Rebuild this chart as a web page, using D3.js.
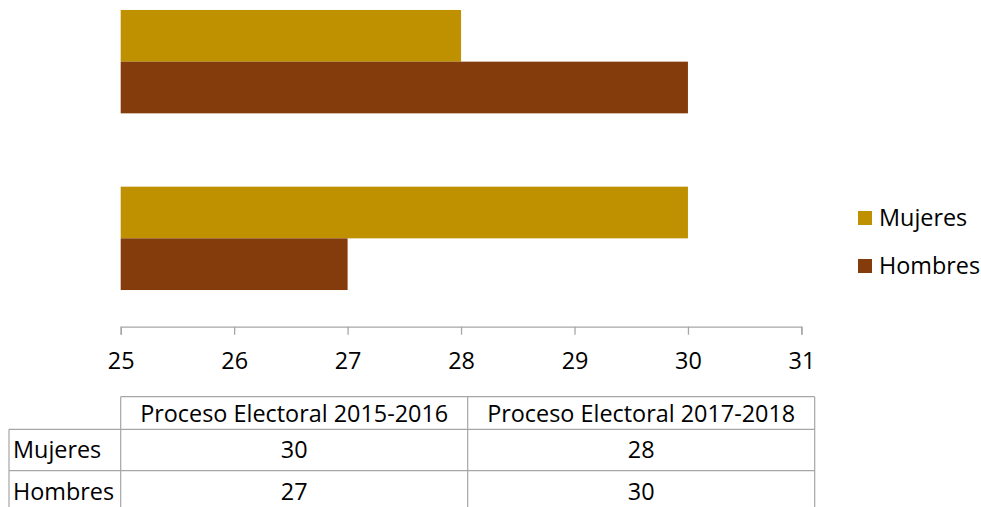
<!DOCTYPE html>
<html lang="es">
<head>
    <meta charset="UTF-8">
    <title>Mujeres y Hombres por proceso electoral</title>
    <script src="https://d3js.org/d3.v7.min.js"></script>
    <style>
        body {
            margin: 0;
            background: #fff;
        }
        svg text {
            font-family: "Open Sans", "Noto Sans", sans-serif;
            font-size: 23.4px;
            fill: #000;
        }
        .axis path,
        .axis line {
            stroke: #a6a6a6;
            stroke-width: 1.3;
        }
        .grid-table line {
            stroke: #a6a6a6;
            stroke-width: 1.2;
        }
    </style>
</head>
<body>
    <svg width="981" height="507"></svg>
    <script>
        // data
        const categories = ["Proceso Electoral 2015-2016", "Proceso Electoral 2017-2018"];
        const seriesNames = ["Mujeres", "Hombres"];
        const mujeres = [30, 28];
        const hombres = [27, 30];
        const xTicks = [25, 26, 27, 28, 29, 30, 31];

        const colors = { Mujeres: "#bf9000", Hombres: "#843c0c" };

        const svg = d3.select("svg");

        const plot = { left: 120.7, right: 801.4, top: -26.7, bottom: 326.7 };

        const x = d3.scaleLinear()
            .domain([25, 31])
            .range([plot.left, plot.right]);

        // first category sits at the bottom, like in the original
        const y0 = d3.scaleBand()
            .domain(categories)
            .range([plot.bottom, plot.top])
            .paddingInner(0.415)
            .paddingOuter(0.2075);

        const y1 = d3.scaleBand()
            .domain(seriesNames)
            .range([0, y0.bandwidth()]);

        const rows = categories.map((c, i) => ({
            category: c,
            values: [
                { name: "Mujeres", value: mujeres[i] },
                { name: "Hombres", value: hombres[i] }
            ]
        }));

        const groups = svg.append("g")
            .selectAll("g")
            .data(rows)
            .enter()
            .append("g")
            .attr("transform", d => `translate(0,${y0(d.category)})`);

        groups.selectAll("rect")
            .data(d => d.values)
            .enter()
            .append("rect")
            .attr("x", x(25))
            .attr("y", d => y1(d.name))
            .attr("width", d => x(d.value) - x(25))
            .attr("height", y1.bandwidth())
            .attr("fill", d => colors[d.name]);

        // x axis
        const axis = svg.append("g")
            .attr("class", "axis")
            .attr("transform", `translate(0,${plot.bottom})`)
            .call(d3.axisBottom(x)
                .tickValues(xTicks)
                .tickFormat(d3.format("d"))
                .tickSize(8)
                .tickSizeOuter(8)
                .tickPadding(18));

        axis.selectAll("text")
            .style("font-size", "23.4px")
            .style("font-family", "'Open Sans', sans-serif")
            .attr("fill", "#000");

        // legend
        const legend = svg.append("g")
            .selectAll("g")
            .data(seriesNames)
            .enter()
            .append("g")
            .attr("transform", (d, i) => `translate(858,${211 + i * 48})`);

        legend.append("rect")
            .attr("width", 14)
            .attr("height", 14)
            .attr("fill", d => colors[d]);

        legend.append("text")
            .attr("x", 21)
            .attr("y", 7)
            .attr("dy", "0.35em")
            .text(d => d);

        // data table under the chart
        const tbl = { left: 9, labelRight: 120.7, right: 814.7, top: 396.7, rowH: [32.6, 41.4, 41.4] };
        const colX = [tbl.labelRight, (tbl.labelRight + tbl.right) / 2, tbl.right];
        const rowY = [tbl.top];
        tbl.rowH.forEach(h => rowY.push(rowY[rowY.length - 1] + h));

        const table = svg.append("g").attr("class", "grid-table");

        // horizontal lines
        table.append("line")
            .attr("x1", tbl.labelRight).attr("x2", tbl.right)
            .attr("y1", rowY[0]).attr("y2", rowY[0]);
        [rowY[1], rowY[2], rowY[3]].forEach(yy => {
            table.append("line")
                .attr("x1", tbl.left).attr("x2", tbl.right)
                .attr("y1", yy).attr("y2", yy);
        });

        // vertical lines
        table.append("line")
            .attr("x1", tbl.left).attr("x2", tbl.left)
            .attr("y1", rowY[1]).attr("y2", rowY[3]);
        colX.forEach(xx => {
            table.append("line")
                .attr("x1", xx).attr("x2", xx)
                .attr("y1", rowY[0]).attr("y2", rowY[3]);
        });

        // header
        table.selectAll(".head")
            .data(categories)
            .enter()
            .append("text")
            .attr("class", "head")
            .attr("x", (d, i) => (colX[i] + colX[i + 1]) / 2)
            .attr("y", (rowY[0] + rowY[1]) / 2 + 0.5)
            .attr("dy", "0.35em")
            .attr("text-anchor", "middle")
            .text(d => d);

        // body rows
        const bodyData = [
            { name: "Mujeres", values: mujeres },
            { name: "Hombres", values: hombres }
        ];

        bodyData.forEach((r, ri) => {
            const cy = (rowY[ri + 1] + rowY[ri + 2]) / 2;
            table.append("text")
                .attr("x", tbl.left + 4)
                .attr("y", cy)
                .attr("dy", "0.35em")
                .text(r.name);
            r.values.forEach((v, ci) => {
                table.append("text")
                    .attr("x", (colX[ci] + colX[ci + 1]) / 2)
                    .attr("y", cy)
                    .attr("dy", "0.35em")
                    .attr("text-anchor", "middle")
                    .text(v);
            });
        });
    </script>
</body>
</html>
